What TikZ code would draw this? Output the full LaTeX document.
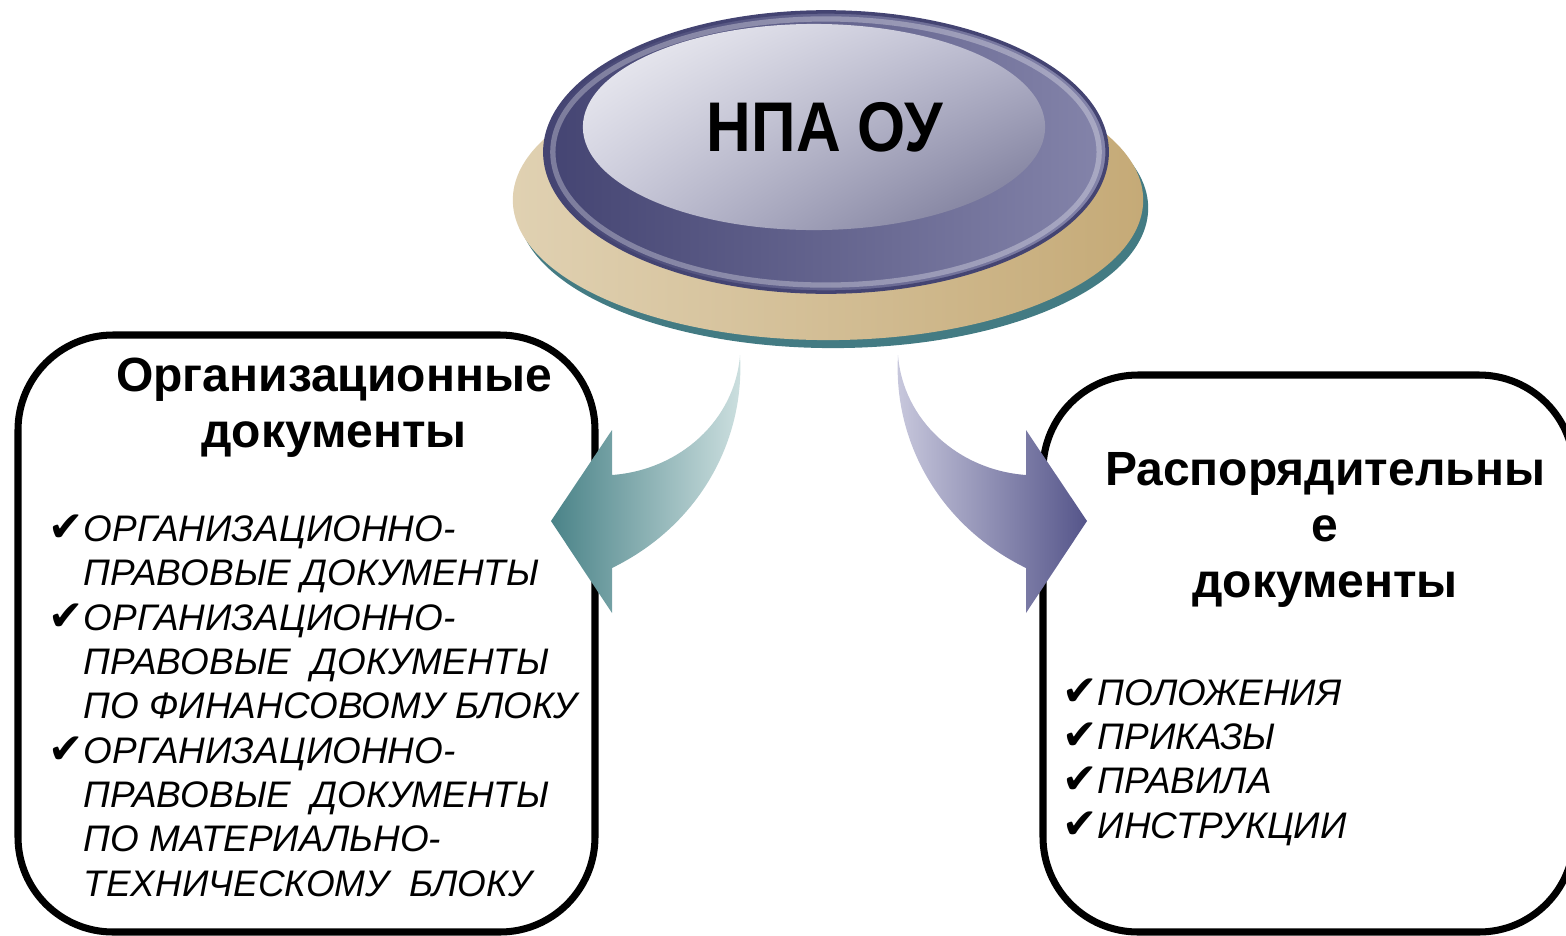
\documentclass[tikz,border=0pt]{standalone}
\usepackage{fontspec}
\setmainfont{Liberation Sans}
\newfontfamily\checkfont{DejaVu Sans}
\usetikzlibrary{shadings}
\definecolor{tanL}{HTML}{E0D1B2}
\definecolor{tanD}{HTML}{C5AA77}
\definecolor{tealS}{HTML}{437B83}
\definecolor{rimD}{HTML}{444472}
\definecolor{rimM}{HTML}{8484AA}
\definecolor{arrLa}{HTML}{4A8388}
\definecolor{arrLb}{HTML}{CFE1E1}
\definecolor{arrRa}{HTML}{CACADE}
\definecolor{arrRb}{HTML}{55558A}
\def\chk{\makebox[0.35cm][l]{\checkfont\upshape\fontsize{12}{12}\selectfont ✔}}
\def\ind{\hspace*{0.35cm}}
\tikzset{
	docbox/.style={line width=2pt, rounded corners=0.95cm},
	head/.style={font=\bfseries\fontsize{13.65}{15.8}\selectfont, align=center, inner sep=0pt},
	items/.style={font=\itshape\fontsize{10.5}{12.6}\selectfont, align=left, inner sep=0pt}
}

\begin{document}
\begin{tikzpicture}[x=0.01cm, y=-0.01cm]
		%%%%% START %%%%%
		\useasboundingbox (0,0) rectangle (1566,936);
		
		\draw[docbox] (18,335) rectangle (595,932);
		\draw[docbox] (1043,375) rectangle (1574,932);
		
		% disk
		\fill[tealS] (833,208) ellipse [x radius=3.15cm, y radius=1.4cm];
		\shade[left color=tanL, right color=tanD] (828,200) ellipse [x radius=3.15cm, y radius=1.4cm];
		\shade[left color=rimD, right color=rimM] (826,152) ellipse [x radius=2.81cm, y radius=1.4cm];
		\draw[rimD, line width=1pt] (826,152) ellipse [x radius=2.81cm, y radius=1.4cm];
		\draw[white, opacity=0.3, line width=1.5pt] (826,152) ellipse [x radius=2.73cm, y radius=1.33cm];
		\shade[upper left=white!90!rimM, upper right=white!45!rimM, lower left=white!55!rimM, lower right=rimM!85!black]
			(814,127) ellipse [x radius=2.31cm, y radius=1.03cm];
		\node (npa) at (825,127) {\scalebox{0.88}[1]{\fontsize{20}{24}\bfseries НПА ОУ}};
		
		% arrows
		\shade[left color=arrLa, right color=arrLb] (740,355) .. controls (735,420) and (680,470) .. (612,475)
			-- (612,430) -- (551,521) -- (612,613) -- (612,568) .. controls (700,525) and (745,440) .. (740,355) -- cycle;
		\shade[left color=arrRa, right color=arrRb] (898,355) .. controls (903,420) and (958,470) .. (1026,475)
			-- (1026,430) -- (1087,521) -- (1026,613) -- (1026,568) .. controls (938,525) and (893,440) .. (898,355) -- cycle;
		
		% texts (base = last line)
		\node[head, anchor=base] (orgtitle) at (334,447) {Организационные\\документы};
		\node[items, anchor=base west] (orglist) at (48,896) {\chk ОРГАНИЗАЦИОННО-\\
			\ind ПРАВОВЫЕ ДОКУМЕНТЫ\\
			\chk ОРГАНИЗАЦИОННО-\\
			\ind ПРАВОВЫЕ\ \ ДОКУМЕНТЫ\\
			\ind ПО ФИНАНСОВОМУ БЛОКУ\\
			\chk ОРГАНИЗАЦИОННО-\\
			\ind ПРАВОВЫЕ\ \ ДОКУМЕНТЫ\\
			\ind ПО МАТЕРИАЛЬНО-\\
			\ind ТЕХНИЧЕСКОМУ\ \ БЛОКУ};
		
		\node[head, anchor=base] (rastitle) at (1325,597) {Распорядительны\\е\\документы};
		\node[items, anchor=base west] (raslist) at (1062,838) {\chk ПОЛОЖЕНИЯ\\
			\chk ПРИКАЗЫ\\
			\chk ПРАВИЛА\\
			\chk ИНСТРУКЦИИ};
		
		%%%%% END %%%%%
\end{tikzpicture}
\end{document}
